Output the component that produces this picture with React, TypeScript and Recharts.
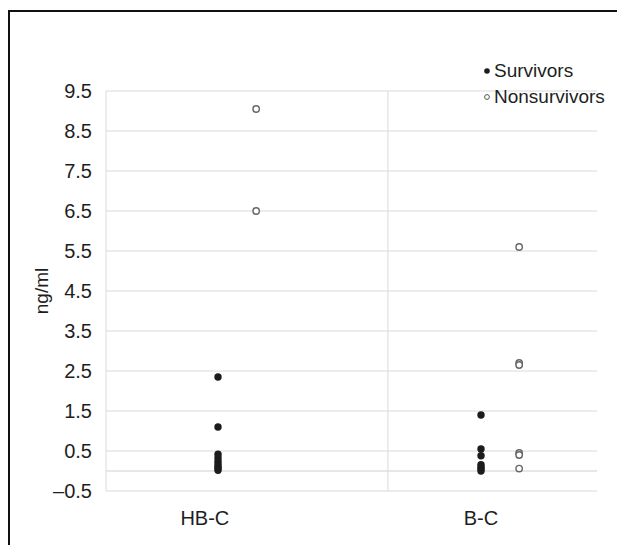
import {
  ScatterChart,
  Scatter,
  XAxis,
  YAxis,
  CartesianGrid,
  ReferenceLine,
  Legend,
} from "recharts";

const categories = ["HB-C", "B-C"];
const survivors = [
  [2.35, 1.1, 0.42, 0.33, 0.25, 0.18, 0.12, 0.07, 0.02],
  [1.4, 0.55, 0.38, 0.16, 0.1, 0.05, 0.0],
];
const nonsurvivors = [
  [9.05, 6.5],
  [5.6, 2.7, 2.65, 0.45, 0.4, 0.06],
];
const yTicks = [-0.5, 0.5, 1.5, 2.5, 3.5, 4.5, 5.5, 6.5, 7.5, 8.5, 9.5];
const xLabelPos = [0.95, 2.0];

// group offsets along the numeric x axis
const SURV_X = 0;
const NONSURV_X = 0.145;
const DIVIDER_X = 1.646;

const survData = survivors.flatMap((vals, i) =>
  vals.map((y) => ({ x: i + 1 + SURV_X, y }))
);
const nonsurvData = nonsurvivors.flatMap((vals, i) =>
  vals.map((y) => ({ x: i + 1 + NONSURV_X, y }))
);

const FONT = '"Liberation Sans", Arial, Helvetica, sans-serif';
const GRID = "#dadada";
const TEXT = "#1e1e1e";

const FilledDot = (p: any) => (
  <circle cx={p.cx} cy={p.cy} r={3.7} fill="#1c1c1c" />
);
const OpenDot = (p: any) => (
  <circle cx={p.cx} cy={p.cy} r={3.2} fill="#fff" stroke="#666" strokeWidth={1.4} />
);

function LegendBox() {
  const rows = [
    { name: "Survivors", open: false },
    { name: "Nonsurvivors", open: true },
  ];
  return (
    <div style={{ fontFamily: FONT, fontSize: 19, color: TEXT }}>
      {rows.map((r) => (
        <div key={r.name} style={{ display: "flex", alignItems: "center", height: 26 }}>
          <svg width={14} height={10} style={{ marginRight: 1 }}>
            {r.open ? (
              <circle cx={8} cy={5} r={2.4} fill="#fff" stroke="#555" strokeWidth={1} />
            ) : (
              <circle cx={8} cy={5} r={2.8} fill="#1c1c1c" />
            )}
          </svg>
          <span>{r.name}</span>
        </div>
      ))}
    </div>
  );
}

export default function App() {
  return (
    <div style={{ position: "relative", width: 617, height: 545, fontFamily: FONT }}>
      <style>{"body{margin:0;overflow:hidden}"}</style>
      <div
        style={{
          position: "absolute",
          left: 8,
          top: 10,
          width: 609,
          height: 535,
          borderTop: "2px solid #111",
          borderLeft: "2px solid #111",
          boxSizing: "border-box",
        }}
      />
      <div style={{ position: "absolute", left: 0, top: 0 }}>
        <ScatterChart
          width={617}
          height={545}
          margin={{ top: 91, right: 20, bottom: 12, left: 0 }}
        >
          <CartesianGrid vertical={false} stroke={GRID} />
          <XAxis
            type="number"
            dataKey="x"
            domain={[0.5741, 2.441]}
            ticks={xLabelPos}
            tickFormatter={(v: number) => (v < DIVIDER_X ? categories[0] : categories[1])}
            axisLine={false}
            tickLine={false}
            tickMargin={14}
            height={42}
            tick={{ fill: TEXT, fontSize: 20, fontFamily: FONT }}
            allowDataOverflow
          />
          <YAxis
            type="number"
            dataKey="y"
            domain={[-0.5, 9.5]}
            ticks={yTicks}
            interval={0}
            width={106}
            axisLine={{ stroke: GRID }}
            tickLine={false}
            tickMargin={8}
            tickFormatter={(v: number) => (v < 0 ? "\u2013" + Math.abs(v).toFixed(1) : v.toFixed(1))}
            tick={{ fill: TEXT, fontSize: 20, fontFamily: FONT }}
            label={{
              value: "ng/ml",
              angle: -90,
              position: "center",
              dx: -12,
              style: { fill: TEXT, fontSize: 19, fontFamily: FONT },
            }}
          />
          <ReferenceLine y={0} stroke="#cfcfcf" />
          <ReferenceLine x={DIVIDER_X} stroke={GRID} />
          <Legend
            layout="horizontal"
            verticalAlign="middle"
            align="center"
            content={() => <LegendBox />}
            wrapperStyle={{ top: 58, left: 479, width: 138, height: 52 }}
          />
          <Scatter
            name="Survivors"
            data={survData}
            shape={FilledDot}
            isAnimationActive={false}
          />
          <Scatter
            name="Nonsurvivors"
            data={nonsurvData}
            shape={OpenDot}
            isAnimationActive={false}
          />
        </ScatterChart>
      </div>
    </div>
  );
}
